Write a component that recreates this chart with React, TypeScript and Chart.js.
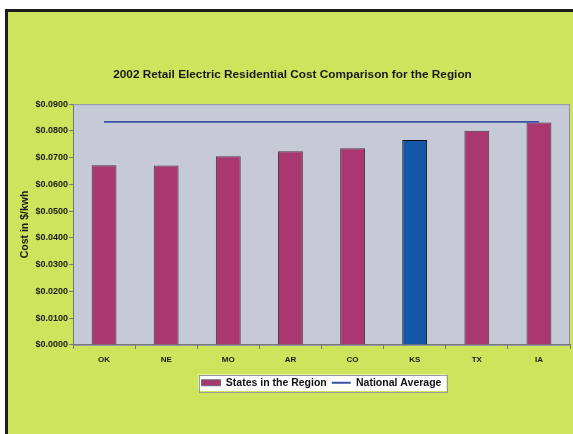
import React, { useEffect, useRef } from 'react';
import { Chart, registerables } from 'chart.js';

Chart.register(...registerables);

const titleText = '2002 Retail Electric Residential Cost Comparison for the Region';
const yAxisTitle = 'Cost in $/kwh';
const categories = ['OK', 'NE', 'MO', 'AR', 'CO', 'KS', 'TX', 'IA'];
const stateCosts = [0.0672, 0.0671, 0.0705, 0.0724, 0.0735, 0.0766, 0.0801, 0.0831];
const nationalAverage = [0.0834, 0.0834, 0.0834, 0.0834, 0.0834, 0.0834, 0.0834, 0.0834];
const highlightState = 'KS';
const seriesNames = ['States in the Region', 'National Average'];
const yMin = 0;
const yMax = 0.09;
const yStep = 0.01;

const FONT = '"Liberation Sans", Arial, sans-serif';
const GREEN = '#CDE45C';
const PLOT_BG = '#C6C9D6';
const BAR = '#A8386F';
const BAR_HL = '#1456A8';
const LINE = '#3A50A4';

const framePlugin = {
  id: 'frame',
  beforeDraw(chart: any) {
    const { ctx, width, height, chartArea: a } = chart;
    ctx.save();
    ctx.fillStyle = '#ffffff';
    ctx.fillRect(0, 0, width, height);
    ctx.fillStyle = '#1c1c1c';
    ctx.fillRect(5, 9, width - 5, height - 9);
    ctx.fillStyle = GREEN;
    ctx.fillRect(8, 12, width - 8, height - 12);
    ctx.fillStyle = PLOT_BG;
    ctx.fillRect(a.left, a.top, a.right - a.left, a.bottom - a.top);
    ctx.strokeStyle = '#8d92aa';
    ctx.lineWidth = 1;
    ctx.strokeRect(a.left + 0.5, a.top + 0.5, a.right - a.left - 1, a.bottom - a.top);
    const boxes = chart.legend && chart.legend.legendHitBoxes;
    if (boxes && boxes.length) {
      let l = Infinity, r = -Infinity, t = Infinity, b = -Infinity;
      boxes.forEach((h: any) => {
        l = Math.min(l, h.left);
        r = Math.max(r, h.left + h.width);
        t = Math.min(t, h.top);
        b = Math.max(b, h.top + h.height);
      });
      ctx.fillStyle = '#ffffff';
      ctx.fillRect(l - 3, t - 3, r - l + 8, b - t + 6);
      ctx.strokeStyle = '#9a9a9a';
      ctx.strokeRect(Math.round(l - 3) + 0.5, Math.round(t - 3) + 0.5, Math.round(r - l + 8), Math.round(b - t + 6));
    }
    ctx.restore();
  },
};

export default function App() {
  const ref = useRef<HTMLCanvasElement | null>(null);
  useEffect(() => {
    if (!ref.current) return;
    const chart = new Chart(ref.current, {
      type: 'bar',
      data: {
        labels: categories,
        datasets: [
          {
            type: 'line',
            label: seriesNames[1],
            data: nationalAverage,
            borderColor: LINE,
            backgroundColor: LINE,
            borderWidth: 1.8,
            pointRadius: 0,
            order: 0,
          } as any,
          {
            type: 'bar',
            label: seriesNames[0],
            data: stateCosts,
            backgroundColor: categories.map((c) => (c === highlightState ? BAR_HL : BAR)),
            borderColor: categories.map((c) => (c === highlightState ? '#111' : '#4a3a45')),
            borderWidth: 1,
            barPercentage: 0.4,
            categoryPercentage: 1,
            order: 1,
          },
        ],
      },
      options: {
        responsive: false,
        animation: false,
        layout: { padding: { left: 15, right: 3, top: 12, bottom: 36 } },
        font: { family: FONT },
        plugins: {
          title: {
            display: true,
            text: titleText,
            color: '#1a1a1a',
            font: { family: FONT, size: 11.8, weight: 'bold' },
            padding: { top: 56, bottom: 22 },
          },
          legend: {
            position: 'bottom',
            fullSize: false,
            labels: {
              color: '#111',
              font: { family: FONT, size: 10.5, weight: 'bold' },
              usePointStyle: true,
              pointStyleWidth: 19,
              boxHeight: 6,
              padding: 5,
              sort: (a: any, b: any) => (a.text === seriesNames[0] ? -1 : b.text === seriesNames[0] ? 1 : 0),
              generateLabels: (ch: any) => {
                const items = Chart.defaults.plugins.legend.labels.generateLabels(ch);
                return items.map((it: any) => {
                  if (it.text === seriesNames[0]) {
                    return { ...it, fillStyle: BAR, strokeStyle: '#6a6a7a', lineWidth: 1, pointStyle: 'rect' };
                  }
                  return { ...it, strokeStyle: LINE, lineWidth: 2, pointStyle: 'line' };
                });
              },
            },
          },
          tooltip: { enabled: false },
        },
        scales: {
          x: {
            grid: { display: true, drawOnChartArea: false, tickLength: 4, color: '#777' },
            border: { color: '#777' },
            ticks: {
              color: '#1a1a1a',
              font: { family: FONT, size: 8, weight: 'bold' },
              padding: 6,
              maxRotation: 0,
            },
            afterFit: (scale: any) => {
              scale.height = scale.height + 2;
            },
          },
          y: {
            min: yMin,
            max: yMax,
            grid: { display: true, drawOnChartArea: false, tickLength: 4, color: '#777' },
            border: { color: '#777' },
            ticks: {
              stepSize: yStep,
              color: '#1a1a1a',
              font: { family: FONT, size: 9, weight: 'bold' },
              padding: 1,
              callback: (v: any) => '$' + Number(v).toFixed(4),
            },
            title: {
              display: true,
              text: yAxisTitle,
              color: '#1a1a1a',
              font: { family: FONT, size: 10.5, weight: 'bold' },
              padding: { top: 3.5, bottom: 0 },
            },
            afterFit: (scale: any) => {
              scale.width = 58;
            },
          },
        },
      },
      plugins: [framePlugin],
    } as any);
    return () => chart.destroy();
  }, []);
  return (
    <div style={{ position: 'fixed', left: 0, top: 0, width: 573, height: 434 }}>
      <canvas ref={ref} width={573} height={434} />
    </div>
  );
}
